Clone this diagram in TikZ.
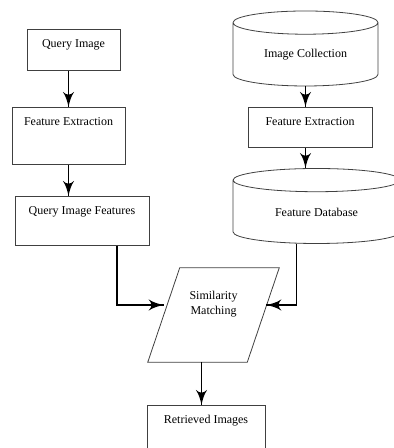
\documentclass[tikz,border=0pt]{standalone}
\usepackage{fontspec}
\setmainfont{Liberation Serif}
\usetikzlibrary{arrows}
\usetikzlibrary{decorations.markings}
\usetikzlibrary{shapes.geometric}
\tikzset{->/.style = {decoration={markings,
                                  mark=at position 1 with {\arrow[scale=1.7]{latex'}}},
                      postaction={decorate}}}
\tikzset{frame/.style = {draw = black!75, line width = 0.6pt}}
\tikzset{box/.style = {frame, rectangle, inner sep = 0,
                       anchor = north, text height = 13.5pt}}
\tikzset{cyl/.style = {frame, cylinder, shape border rotate = 90,
                       aspect = 0.28, inner sep = 0}}
\tikzset{link/.style = {line width = 1.3pt}}

\begin{document}
\begin{tikzpicture}[x = 0.75pt, y = -0.75pt, font = \fontsize{9}{11}\selectfont]
      \useasboundingbox (0, 0) rectangle (393, 448);
      \node [box, minimum width = 69.75pt, text depth = 17.25pt] (qi) at (73.5, 29) {Query Image};
      \node [box, minimum width = 84.75pt, text depth = 29.25pt] (fel) at (68.5, 107) {Feature Extraction};
      \node [box, minimum width = 100.5pt, text depth = 23.25pt] (qif) at (82, 196) {Query Image Features};
      \node [cyl, minimum width = 108.75pt, minimum height = 56.25pt] (ic) at (305.5, 54.5) {Image Collection};
      \node [box, minimum width = 93pt, text depth = 16.5pt] (fer) at (310, 107) {Feature Extraction};
      \node [cyl, minimum width = 125.25pt, minimum height = 56.25pt] (fdb) at (316.5, 212) {Feature Database};
      \node [minimum width = 74.25pt, minimum height = 70.5pt, inner sep = 0,
             label = {[name = simtext, align = center, yshift = 8pt]center:Similarity\\Matching}]
             (sim) at (213.5, 315) {};
      \draw [frame] ([xshift = 12pt]sim.north west) -- ([xshift = 12pt]sim.north east)
                 -- ([xshift = -12pt]sim.south east) -- ([xshift = -12pt]sim.south west) -- cycle;
      \node [box, minimum width = 88.5pt, text depth = 24pt] (ret) at (206, 405) {Retrieved Images};
      % left column
      \draw [link, ->] (qi.south -| fel.north) -- (fel.north);
      \draw [link, ->] (fel.south) -- (fel.south |- qif.north);
      % right column
      \draw [link, ->] (ic.south) -- (ic.south |- fer.north);
      \draw [link, ->] (ic.south |- fer.south) -- (ic.south |- fdb.north);
      % into matching
      \draw [link, ->] ([xshift = 26.25pt]qif.south) |- ([yshift = 7.5pt]sim.west);
      \draw [link, ->] ([xshift = -15pt]fdb.south) |- ([shift = {(2.25pt, 7.5pt)}]sim.east);
      \draw [link, ->] ([xshift = -9pt]sim.south) -- ([xshift = -9pt]sim.south |- ret.north);
    \end{tikzpicture}
\end{document}
